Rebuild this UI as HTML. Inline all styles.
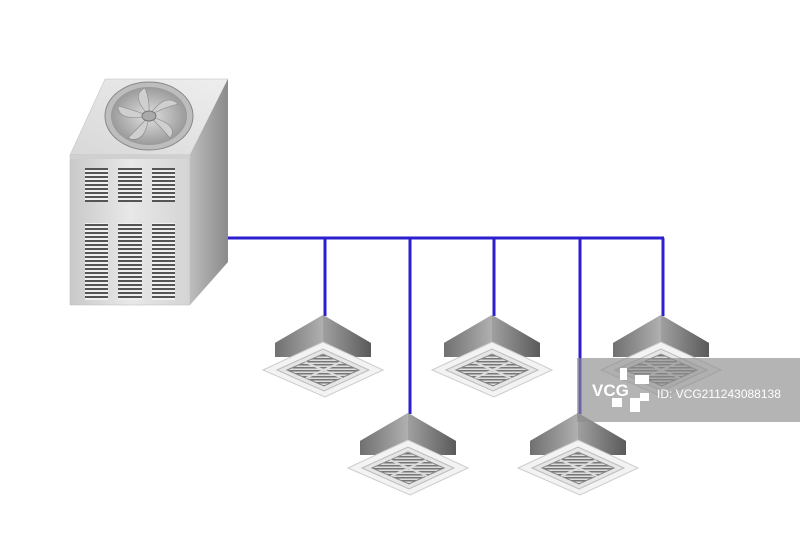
<!DOCTYPE html>
<html><head><style>body{margin:0;background:#fff}svg{display:block}</style></head><body>
<svg width="800" height="533" viewBox="0 0 800 533" xmlns="http://www.w3.org/2000/svg">
<defs>
<linearGradient id="fr" x1="0" x2="1"><stop offset="0" stop-color="#c9c9c9"/><stop offset=".5" stop-color="#e8e8e8"/><stop offset="1" stop-color="#d4d4d4"/></linearGradient>
<linearGradient id="sd" x1="0" x2="1"><stop offset="0" stop-color="#bdbdbd"/><stop offset="1" stop-color="#8a8a8a"/></linearGradient>
<linearGradient id="tp" x1="0" y1="1" x2="1" y2="0"><stop offset="0" stop-color="#d8d8d8"/><stop offset="1" stop-color="#eeeeee"/></linearGradient>
<radialGradient id="fan"><stop offset="0" stop-color="#e0e0e0"/><stop offset="1" stop-color="#9a9a9a"/></radialGradient>
<linearGradient id="bl" x1="0" x2="1"><stop offset="0" stop-color="#707070"/><stop offset="1" stop-color="#b0b0b0"/></linearGradient>
<linearGradient id="br" x1="0" x2="1"><stop offset="0" stop-color="#a0a0a0"/><stop offset="1" stop-color="#5a5a5a"/></linearGradient>
<pattern id="lv" width="4" height="4" patternUnits="userSpaceOnUse"><rect width="4" height="4" fill="#f0f0f0"/><rect width="4" height="2" fill="#555"/></pattern>
<pattern id="gr" width="3" height="3" patternUnits="userSpaceOnUse"><rect width="3" height="3" fill="#ddd"/><rect width="3" height="1.5" fill="#777"/></pattern>
<g id="cas">
<polygon points="0,-55 -48,-27 -48,-13 48,-13 48,-27" fill="#777"/>
<polygon points="0,-55 -48,-27 -48,-13 0,-13" fill="url(#bl)"/>
<polygon points="0,-55 48,-27 48,-13 0,-13" fill="url(#br)"/>
<polygon points="-60,0 0,-28 60,0 2,27" fill="#f3f3f3" stroke="#ccc"/>
<polygon points="-46,0 0,-21 46,0 1,21" fill="#e6e6e6" stroke="#bbb"/>
<polygon points="-36,0 0,-16 36,0 1,16" fill="url(#gr)" stroke="#888"/>
<line x1="-18" y1="-8" x2="19" y2="8" stroke="#ddd" stroke-width="2"/>
<line x1="18" y1="-8" x2="-17" y2="8" stroke="#ddd" stroke-width="2"/>
</g>
</defs>
<!-- pipes -->
<g stroke="#2d1fd0" stroke-width="3" fill="none">
<line x1="228" y1="238" x2="664" y2="238"/>
<line x1="325" y1="238" x2="325" y2="316"/>
<line x1="410" y1="238" x2="410" y2="414"/>
<line x1="494" y1="238" x2="494" y2="316"/>
<line x1="580" y1="238" x2="580" y2="414"/>
<line x1="663" y1="238" x2="663" y2="316"/>
</g>
<!-- outdoor unit -->
<polygon points="70,155 105,79 228,79 190,155" fill="url(#tp)" stroke="#bbb" stroke-width=".5"/>
<polygon points="190,155 228,79 228,262 190,305" fill="url(#sd)"/>
<rect x="70" y="155" width="120" height="150" fill="url(#fr)" stroke="#bbb" stroke-width=".5"/>
<rect x="70" y="155" width="120" height="4" fill="#d0d0d0"/>
<ellipse cx="149" cy="116" rx="44" ry="34" fill="#bdbdbd" stroke="#888"/>
<ellipse cx="149" cy="116" rx="38" ry="29" fill="url(#fan)"/>
<g fill="#cfcfcf" stroke="#888" stroke-width=".6">
<path d="M149 116 Q130 95 145 88 Q150 100 149 116Z"/>
<path d="M149 116 Q165 92 178 104 Q162 108 149 116Z"/>
<path d="M149 116 Q180 125 170 138 Q160 126 149 116Z"/>
<path d="M149 116 Q145 145 128 138 Q140 126 149 116Z"/>
<path d="M149 116 Q118 122 118 106 Q134 110 149 116Z"/>
</g>
<ellipse cx="149" cy="116" rx="7" ry="5" fill="#aaa" stroke="#777"/>
<g fill="url(#lv)">
<rect x="85" y="168" width="23" height="34"/><rect x="118" y="168" width="24" height="34"/><rect x="152" y="168" width="23" height="34"/>
<rect x="85" y="223" width="23" height="77"/><rect x="118" y="223" width="24" height="77"/><rect x="152" y="223" width="23" height="77"/>
</g>
<!-- cassettes -->
<use href="#cas" x="323" y="370"/>
<use href="#cas" x="492" y="370"/>
<use href="#cas" x="661" y="370"/>
<use href="#cas" x="408" y="468"/>
<use href="#cas" x="578" y="468"/>
<!-- watermark -->
<rect x="577" y="358" width="223" height="64" fill="#8c8c8c" opacity=".65"/>
<text x="592" y="396" font-family="Liberation Sans, sans-serif" font-weight="bold" font-size="17" fill="#fff">VCG</text>
<g fill="#fff"><rect x="620" y="368" width="7" height="12"/><rect x="635" y="375" width="14" height="9"/><rect x="630" y="398" width="10" height="14"/><rect x="612" y="398" width="10" height="9"/><rect x="640" y="393" width="9" height="8"/></g>
<text x="657" y="398" font-family="Liberation Sans, sans-serif" font-size="12" fill="#fff">ID: VCG211243088138</text>
</svg>
</body></html>
